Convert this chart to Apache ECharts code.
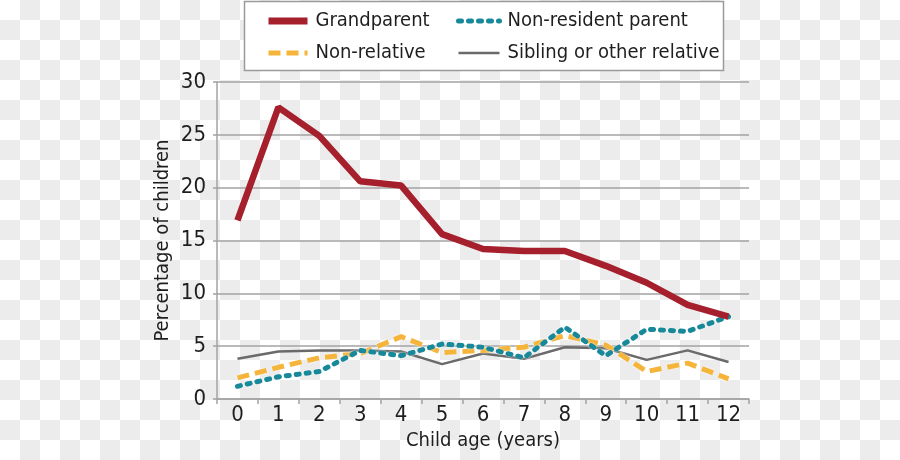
<!DOCTYPE html>
<html><head><meta charset="utf-8">
<script src="https://cdn.jsdelivr.net/npm/echarts@6/dist/echarts.min.js"></script>
<style>
html,body{margin:0;padding:0;width:900px;height:460px;overflow:hidden;
background:repeating-conic-gradient(#ececec 0 25%, #ffffff 0 50%) 0 0/40px 40px;}
#c{width:900px;height:460px}
</style></head><body><div id="c"></div>
<script>
const ages = ['0','1','2','3','4','5','6','7','8','9','10','11','12'];
const grandparent       = [16.9, 27.6, 24.9, 20.6, 20.2, 15.6, 14.2, 14.0, 14.0, 12.6, 11.0, 8.9, 7.8];
const nonResidentParent = [1.2, 2.1, 2.6, 4.6, 4.1, 5.2, 4.9, 3.9, 6.8, 4.1, 6.6, 6.4, 7.8];
const nonRelative       = [2.0, 3.0, 3.9, 4.3, 5.9, 4.4, 4.6, 4.9, 6.0, 5.1, 2.6, 3.4, 1.9];
const sibling           = [3.8, 4.5, 4.6, 4.6, 4.5, 3.3, 4.3, 3.8, 4.9, 4.8, 3.7, 4.6, 3.5];
const seriesNames = ['Grandparent','Non-resident parent','Non-relative','Sibling or other relative'];
const yMin = 0, yMax = 30, yStep = 5;

const FONT = "'DejaVu Sans Condensed','Roboto',sans-serif";
const TXT = '#1e1e1e';
const GRID = '#a3a3a3';
const colors = {red:'#a61f2c', teal:'#17899a', yellow:'#f5b43a', gray:'#6a6a6a'};

const chart = echarts.init(document.getElementById('c'), null, {renderer:'canvas'});
const legendText = {fontFamily:FONT, fontSize:20, color:TXT, padding:[0,0,0,3]};
const hidden = {opacity:0};
chart.setOption({
  animation:false,
  backgroundColor:'transparent',
  graphic:[{type:'rect', z:0, shape:{x:244.5, y:1.5, width:479, height:69},
    style:{fill:'#ffffff', stroke:'#9a9a9a', lineWidth:1.5}}],
  legend:[
    {left:265, top:11, padding:0, orient:'vertical', itemWidth:39, itemHeight:14, itemGap:12,
     textStyle:legendText,
     data:[{name:seriesNames[0], lineStyle:{width:7}, itemStyle:hidden},
           {name:seriesNames[2], lineStyle:{width:5}, itemStyle:hidden}]},
    {left:456, top:11, padding:0, orient:'vertical', itemWidth:41, itemHeight:14, itemGap:12,
     textStyle:legendText,
     data:[{name:seriesNames[1], lineStyle:{width:5}, itemStyle:hidden},
           {name:seriesNames[3], lineStyle:{width:2.5}, itemStyle:hidden}]}
  ],
  grid:{left:217, right:151, top:82, bottom:61, containLabel:false},
  xAxis:{
    type:'category', data:ages, boundaryGap:true,
    name:'Child age (years)', nameLocation:'middle', nameGap:32, nameMoveOverlap:false,
    nameTextStyle:{fontFamily:FONT, fontSize:20, color:TXT},
    axisLine:{show:true, lineStyle:{color:GRID, width:1.5}},
    axisTick:{show:true, length:5, interval:0, lineStyle:{color:GRID, width:1.5}},
    axisLabel:{fontFamily:FONT, fontSize:22, color:TXT, margin:5, interval:0},
    splitLine:{show:false}
  },
  yAxis:{
    type:'value', min:yMin, max:yMax, interval:yStep,
    name:'Percentage of children', nameLocation:'middle', nameGap:44, nameMoveOverlap:false,
    nameTextStyle:{fontFamily:FONT, fontSize:20, color:TXT},
    axisLine:{show:true, lineStyle:{color:GRID, width:1.5}},
    axisTick:{show:true, length:4, lineStyle:{color:GRID, width:1.5}},
    axisLabel:{fontFamily:FONT, fontSize:22, color:TXT, margin:11},
    splitLine:{show:true, lineStyle:{color:GRID, width:1.5}}
  },
  series:[
    {name:seriesNames[3], type:'line', data:sibling, symbol:'none', z:2,
     lineStyle:{color:colors.gray, width:2.5}, itemStyle:{color:colors.gray}},
    {name:seriesNames[2], type:'line', data:nonRelative, symbol:'none', z:3,
     lineStyle:{color:colors.yellow, width:5, type:[12,6], shadowColor:'#fff', shadowBlur:2},
     itemStyle:{color:colors.yellow}},
    {name:seriesNames[1], type:'line', data:nonResidentParent, symbol:'none', z:4,
     lineStyle:{color:colors.teal, width:5, type:[3,7], cap:'round', shadowColor:'#fff', shadowBlur:2},
     itemStyle:{color:colors.teal}},
    {name:seriesNames[0], type:'line', data:grandparent, symbol:'none', z:5,
     lineStyle:{color:colors.red, width:6.5}, itemStyle:{color:colors.red}}
  ]
});
</script></body></html>
